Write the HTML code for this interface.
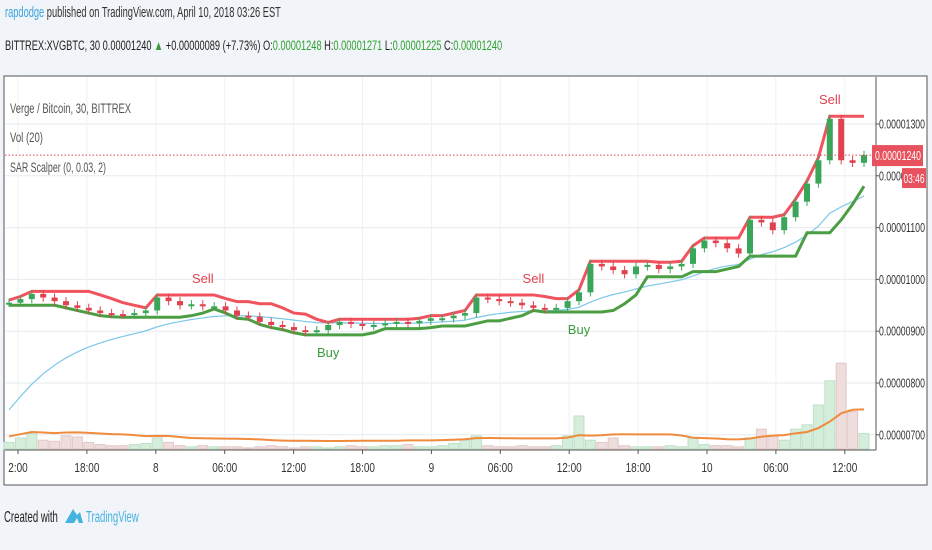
<!DOCTYPE html>
<html><head><meta charset="utf-8"><style>
body{margin:0;width:932px;height:550px;background:#f1f4f8;font-family:"Liberation Sans",sans-serif;overflow:hidden;position:relative}
.t{position:absolute;white-space:nowrap;transform-origin:0 0}
</style></head><body>
<div class="t" style="left:5px;top:5px;font-size:14.5px;color:#333;transform:scaleX(0.64)"><span style="color:#3ba3dc">rapdodge</span> published on TradingView.com, April 10, 2018 03:26 EST</div>
<div class="t" style="left:5px;top:38px;font-size:13.5px;color:#222;transform:scaleX(0.685)">BITTREX:XVGBTC, 30 0.00001240 <span style="color:#3a9b3a">▲</span> +0.00000089 (+7.73%) O:<span style="color:#2ea32e">0.00001248</span> H:<span style="color:#2ea32e">0.00001271</span> L:<span style="color:#2ea32e">0.00001225</span> C:<span style="color:#2ea32e">0.00001240</span></div>
<svg id="c" width="932" height="550" style="position:absolute;left:0;top:0"></svg>
<div class="t" style="left:4px;top:509px;font-size:16px;color:#222;transform:scaleX(0.6)">Created with</div>
<svg style="position:absolute;left:64px;top:505px" width="20" height="22"><path d="M1 18 L9 4 L13 10 L16 7 L19 18 L15 18 L13 13 L10 18 Z" fill="#45b3e0"/></svg>
<div class="t" style="left:86px;top:509px;font-size:16px;color:#45b3e0;transform:scaleX(0.6)">TradingView</div>
<script>
const closes=[955,962,972,965,958,950,945,940,935,933,932,935,940,965,958,950,952,948,948,940,930,928,918,912,908,902,898,902,912,918,914,910,912,915,918,915,920,925,925,930,935,965,962,958,955,950,945,942,945,958,975,1030,1025,1018,1010,1025,1028,1020,1025,1030,1060,1075,1070,1060,1050,1115,1110,1095,1120,1150,1185,1230,1310,1230,1225,1240];
const volumes=[6,10,14,8,7,12,11,6,4,3,3,4,5,10,6,3,2,3,2,2,2,1,2,3,2,1,2,2,1,2,3,2,2,3,3,4,2,2,3,5,8,12,3,2,2,3,2,2,3,12,30,8,6,10,3,2,2,2,3,2,10,4,3,3,2,10,18,12,8,18,22,40,62,78,34,14];
const priceTicks=[1300,1200,1100,1000,900,800,700];
const timeLabels=["2:00","18:00","8","06:00","12:00","18:00","9","06:00","12:00","18:00","10","06:00","12:00"];
const signals=[{i:17,type:"Sell"},{i:28,type:"Buy"},{i:46,type:"Sell"},{i:50,type:"Buy"},{i:72,type:"Sell"}];
const NS="http://www.w3.org/2000/svg",svg=document.getElementById('c');
function el(t,a,p){const e=document.createElementNS(NS,t);for(const k in a)e.setAttribute(k,a[k]);(p||svg).appendChild(e);return e;}
const L=5,R=876,T=77,B=450;
const y=v=>124+(1300-v)*0.518;
const x=i=>9+i*11.4;
const n=closes.length;
el('rect',{x:4,y:76,width:923,height:409,fill:'#fff',stroke:'#555','stroke-width':1});
priceTicks.forEach(v=>{const g=el('line',{x1:L,x2:R,y1:y(v),y2:y(v),stroke:'#e6ebf0'});
const t=el('text',{x:879,y:y(v)+4.5,'font-size':13,fill:'#333','font-family':'Liberation Sans',textLength:46,lengthAdjust:'spacingAndGlyphs'});t.textContent='0.0000'+String(v).padStart(4,'0');
el('line',{x1:R,x2:R+3,y1:y(v),y2:y(v),stroke:'#555'});});
timeLabels.forEach((s,k)=>{const xx=18+k*68.9;el('line',{x1:xx,x2:xx,y1:T,y2:B,stroke:'#eef1f4'});el('line',{x1:xx,x2:xx,y1:B,y2:B+4,stroke:'#555'});
const t=el('text',{x:xx,y:472,'font-size':12.5,fill:'#333','text-anchor':'middle','font-family':'Liberation Sans',transform:`translate(${xx*0.2},0) scale(0.8,1)`});t.textContent=s;});
el('line',{x1:L,x2:R,y1:B,y2:B,stroke:'#555'});el('line',{x1:R,x2:R,y1:T,y2:B,stroke:'#555'});
const vy=v=>B-1-v*1.1;
const vma=[];
volumes.forEach((v,i)=>{const up=i==0||closes[i]>=closes[i-1];const r=el('rect',{x:x(i)-5,y:vy(v),width:10,height:B-1-vy(v),fill:up?'#d5eddb':'#efdcdc',stroke:up?'#bfe0c6':'#e2c8c8'});
const s=volumes.slice(Math.max(0,i-9),i+1);vma.push(s.reduce((a,b)=>a+b,0)/s.length);});
el('polyline',{points:vma.map((v,i)=>x(i)+','+(vy(v)-6)).join(' '),fill:'none',stroke:'#f08a3c','stroke-width':2});
let e=720;const ema=closes.map(c=>(e=e+0.12*(c-e)));
el('polyline',{points:ema.map((v,i)=>x(i)+','+y(v)).join(' '),fill:'none',stroke:'#7cc7e8','stroke-width':1.2});
const hi=[],lo=[];
closes.forEach((c,i)=>{const o=i?closes[i-1]:c;hi.push(Math.max(o,c)+5);lo.push(Math.min(o,c)-5);});
const up=[],dn=[];
for(let i=0;i<n;i++){const s=Math.max(0,i-4);up.push(Math.max(...hi.slice(s,i+1)));dn.push(Math.min(...lo.slice(s,i+1)));}
el('polyline',{points:up.map((v,i)=>x(i)+','+y(v)).join(' '),fill:'none',stroke:'#f0525e','stroke-width':3});
el('polyline',{points:dn.map((v,i)=>x(i)+','+y(v)).join(' '),fill:'none',stroke:'#4c9e43','stroke-width':3});
closes.forEach((c,i)=>{const o=i?closes[i-1]:c;const upc=c>=o;const col=upc?'#3aa65a':'#e0424f';
el('line',{x1:x(i),x2:x(i),y1:y(hi[i]+3),y2:y(lo[i]-3),stroke:col,'stroke-width':1});
const r=el('rect',{x:x(i)-3,y:y(Math.max(o,c)),width:6,height:Math.max(2,Math.abs(y(o)-y(c))),fill:col});});
signals.forEach(s=>{const sell=s.type=="Sell";const t=el('text',{x:x(s.i),y:sell?y(up[s.i])-12:y(dn[s.i])+22,'font-size':13,fill:sell?'#e0424f':'#3a9b3a','text-anchor':'middle','font-family':'Liberation Sans'});t.textContent=s.type;});
[["Verge / Bitcoin, 30, BITTREX",113,'pair-legend',121],["Vol (20)",142,'volume-legend',33],["SAR Scalper (0, 0.03, 2)",172,'sar-legend',96]].forEach(a=>{const t=el('text',{x:10,y:a[1],'font-size':14,fill:'#555','font-family':'Liberation Sans',textLength:a[3],lengthAdjust:'spacingAndGlyphs'});t.textContent=a[0];});
el('line',{x1:L,x2:R,y1:y(1240),y2:y(1240),stroke:'#e0424f','stroke-dasharray':'1.5,2'});
el('rect',{x:872,y:y(1240)-10,width:51,height:21,fill:'#e8525e'});
let t=el('text',{x:875,y:y(1240)+5,'font-size':13,fill:'#fff','font-family':'Liberation Sans',textLength:46,lengthAdjust:'spacingAndGlyphs'});t.textContent='0.00001240';
el('rect',{x:902,y:y(1240)+13,width:24,height:20,fill:'#e8525e'});
t=el('text',{x:914,y:y(1240)+28,'font-size':13,fill:'#fff','text-anchor':'middle','font-family':'Liberation Sans',textLength:21,lengthAdjust:'spacingAndGlyphs'});t.textContent='03:46';
</script>
</body></html>
